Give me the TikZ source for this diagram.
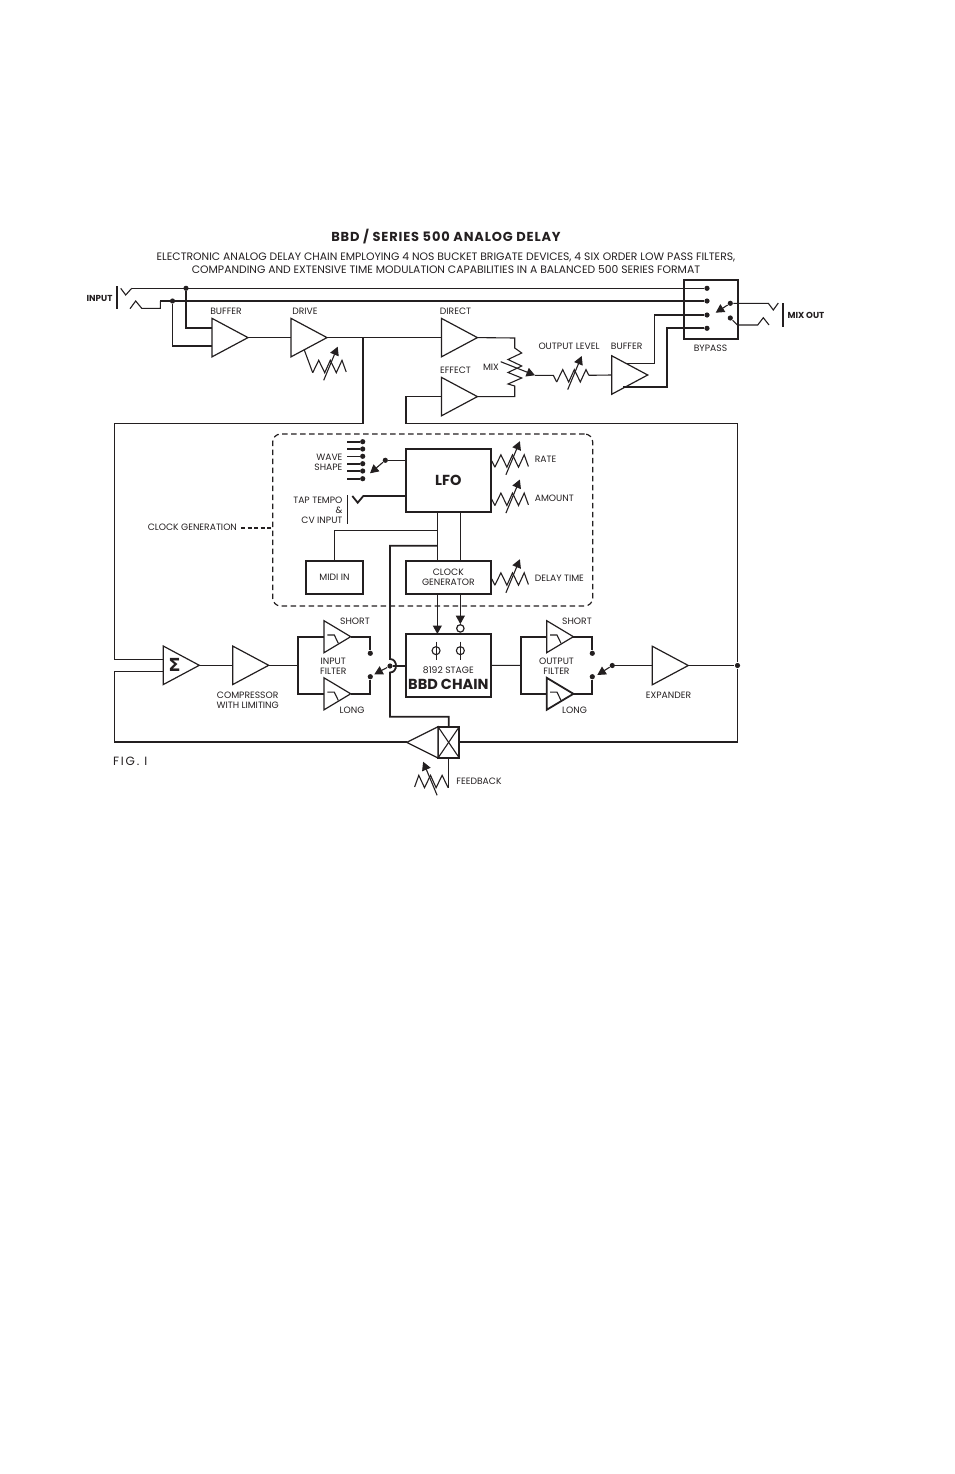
\documentclass[tikz,border=0pt]{standalone}
\usepackage[no-math]{fontspec}
\setmainfont{Poppins}
\newfontfamily\sigmafont{DejaVu Sans}
\usetikzlibrary{arrows.meta,positioning,shapes.geometric}
\definecolor{ink}{HTML}{231F20}

\begin{document}
\begin{tikzpicture}[
  x=1pt,y=-1pt,
  color=ink,line width=1.1pt,
  heavy/.style={line width=1.8pt},
  amp/.style={isosceles triangle,isosceles triangle stretches,draw,fill=white,
              shape border rotate=0,minimum width=38.5pt,minimum height=36pt,
              inner sep=0pt,outer sep=0pt,line width=1.2pt},
  flt/.style={amp,minimum width=32pt,minimum height=26.7pt},
  box/.style={rectangle,draw,fill=white,line width=1.8pt,inner sep=0pt,outer sep=0pt,
              minimum width=85.3pt,align=center},
  dot/.style={circle,fill,inner sep=0pt,minimum size=5.2pt},
  arr/.style={-{Triangle[length=8.5pt,width=9pt]}},
  lab/.style={font=\fontsize{9.2}{10}\selectfont,inner sep=0pt,align=center},
  bold/.style={font=\fontsize{8.7}{10}\selectfont\bfseries,inner sep=0pt},
  pot/.pic={
    \draw (3.4,6.7) -- (9.4,-5.7) -- (15.4,6.7) -- (21,-5.7) -- (27,6.7) -- (32.7,-5.7) -- (#1);
    \draw[arr] (14.4,14.3) -- (28.4,-19.3);
    \coordinate (-mid) at (0,0);
    \coordinate (-in) at (3.4,6.7);
    \coordinate (-out) at (#1);
  },
  lowpass/.pic={\draw (3.3,-1.7) -- (10.3,-1.7) -- (14.3,6.6);}
]
\useasboundingbox (0,0) rectangle (954,1474);

% heading
\node[inner sep=0pt,font=\fontsize{13}{15}\selectfont\bfseries\addfontfeatures{LetterSpace=6.4}] (title) at (446,237) {BBD / SERIES 500 ANALOG DELAY};
\node[lab,font=\fontsize{10.8}{12.5}\selectfont,below=7.5pt of title] (subtitle)
  {ELECTRONIC ANALOG DELAY CHAIN EMPLOYING 4 NOS BUCKET BRIGATE DEVICES, 4 SIX ORDER LOW PASS FILTERS,\\
   COMPANDING AND EXTENSIVE TIME MODULATION CAPABILITIES IN A BALANCED 500 SERIES FORMAT};

% clock generation frame
\node[draw,dashed,dash pattern=on 5.5pt off 3.5pt,line width=1.2pt,rounded corners=8pt,
      minimum width=320pt,minimum height=172pt,inner sep=0pt] (clockgen) at (432.7,520) {};
\node[lab,anchor=east] (clocklab) at (237.5,527.7) {CLOCK GENERATION};
\draw[heavy,dash pattern=on 4pt off 2.5pt] (clocklab.east) ++(3.5,0) -- (clockgen.west |- clocklab);

% top row
\node[amp,anchor=west] (buffer) at (212,337.6) {};
\node[amp,right=43pt of buffer] (drive) {};
\node[amp,right=114.4pt of drive] (direct) {};
\node[amp,anchor=west] (effect) at ([yshift=-59pt]direct.west) {};
\node[amp,anchor=west] (outbuf) at (611.7,375) {};
\node[lab] (buflab) at (226,311) {BUFFER};
\node[lab] (drvlab) at (305,311) {DRIVE};
\node[lab] (dirlab) at (455.5,311) {DIRECT};
\node[lab] (efflab) at (455.5,370) {EFFECT};
\node[lab] (mixlab) at (491,367) {MIX};
\node[lab] (lvllab) at (569,346) {OUTPUT LEVEL};
\node[lab] (oblab) at (626.7,346) {BUFFER};

% input jack
\node[bold] (inlab) at (99.5,298) {INPUT};
\coordinate (intop) at (131.7,288.3);
\coordinate (inlow) at (160.3,301);
\draw[heavy] (116.7,286) -- (116.7,309);
\draw (120.7,288.3) -- (125.7,295) -- (intop);
\draw (130,308.7) -- (135.7,301) -- (141.7,308.3) -- (160.3,308.3) -- (inlow);

% bypass
\node[box,minimum width=54pt,minimum height=59pt,fill=none] (bypass) at (711,309.5) {};
\node[lab] (byplab) at (710.5,348) {BYPASS};
\node[dot] (b1) at (707,288.3) {};
\node[dot] (b2) at (707,301) {};
\node[dot] (b3) at (707,315) {};
\node[dot] (b4) at (707,328.3) {};
\node[dot] (bout1) at (730.3,303.3) {};
\node[dot] (bout2) at (730.3,318) {};
\node[dot] (topdot) at (186,288.3) {};
\node[dot] (lowdot) at (172.5,301) {};
\draw (intop) -- (b1);
\draw (inlow) -- (b2);
\draw[heavy] (topdot) |- ([yshift=9.6pt]buffer.west);
\draw (lowdot) |- ([yshift=-8.4pt]buffer.west);
\draw[arr] (bout1) -- (715.7,312.7);

% mix out jack
\node[bold,anchor=west] (outlab) at (787,315) {MIX OUT};
\draw[heavy] (782.7,303.3) -- (782.7,326.7);
\draw (bout1) -- (768.3,303.3) -- (773.3,310) -- (778.3,303);
\draw (bout2) -- (737.3,325) -- (757.7,325) -- (763.3,317.7) -- (769,325);

% top row wiring
\draw (buffer.east) -- (drive.west);
\draw (drive.east) -- (direct.west);
\pic (drivepot) at (309.3,366) {pot={36.9,6}};
\draw ([xshift=13.3pt,yshift=-12.4pt]drive.west) -- (drivepot-in);
\draw (direct.east) -- (514.7,338) -- (514.7,348) -- (521.7,353) -- (508,359.5) -- (521.7,366)
  -- (508,372.5) -- (521.7,378) -- (508,384) -- (514.7,386) -- (514.7,396.6) -- (effect.east);
\coordinate (mixtip) at (535,375.3);
\draw[arr] (500.7,361.7) -- (mixtip);
\pic (lvlpot) at (553.3,375.3) {pot={35.5,0}};
\draw (mixtip) -- (lvlpot-mid) -- (lvlpot-in);
\draw (lvlpot-out) -- (outbuf.west);
\draw ([xshift=15pt,yshift=11.7pt]outbuf.west) -| (654.3,315) -- (b3);
\draw[heavy] ([xshift=11.3pt,yshift=-11.7pt]outbuf.west) -| (666.7,328.3) -- (b4);

% clock generation contents
\node[box,minimum height=62.7pt] (lfo) at (448.35,480.35) {\fontsize{14.5}{16}\selectfont\bfseries LFO};
\node[box,font=\fontsize{9.2}{10}\selectfont,minimum height=33.3pt,below=49pt of lfo] (clock) {CLOCK\\GENERATOR};
\node[box,font=\fontsize{9.2}{10}\selectfont,minimum width=57.6pt,minimum height=33.3pt] (midi) at (334.5,577.35) {MIDI IN};
\coordinate (miditap) at ([xshift=-11pt,yshift=-18.6pt]lfo.south);
\coordinate (hoptap) at ([xshift=-11pt,yshift=-34pt]lfo.south);
\draw ([xshift=-11pt]lfo.south) -- ([xshift=-11pt]clock.north);
\draw ([xshift=12pt]lfo.south) -- ([xshift=12pt]clock.north);
\draw (midi.north) |- (miditap);

% wave shape contacts
\node[dot] (w1) at (362.7,441.7) {};
\node[dot] (w2) at (362.7,449) {};
\node[dot] (w3) at (362.7,456.3) {};
\node[dot] (w4) at (362.7,463.7) {};
\node[dot] (w5) at (362.7,471) {};
\node[dot] (w6) at (362.7,478.7) {};
\draw[heavy] (w1) -- ++(-16,0);
\draw[heavy] (w2) -- ++(-16,0);
\draw (w3) -- ++(-16,0);
\draw[heavy] (w4) -- ++(-16,0);
\draw (w5) -- ++(-16,0);
\draw[heavy] (w6) -- ++(-16,0);
\node[lab,align=right,anchor=east] (wavelab) at (343,462) {WAVE\\SHAPE};
\node[dot] (wavedot) at (385.3,460.3) {};
\draw[arr] (wavedot) -- (370,473.3);
\draw (wavedot) -- (wavedot -| lfo.west);

% tap tempo
\node[lab,align=right,anchor=east] (taplab) at (343,510.3) {TAP TEMPO\\\&\\CV INPUT};
\coordinate (tapend) at (363.3,496);
\draw (347.7,495.3) -- (347.7,524.3);
\draw[heavy] (352.3,496) -- (357.7,502.7) -- (tapend) -- (tapend -| lfo.west);

% pots on the clock blocks
\pic (ratepot) at (491.5,460.5) {pot={36.9,6}};
\pic (amtpot) at (491.5,498.8) {pot={36.9,6}};
\pic (timepot) at (491.5,578.5) {pot={36.9,6}};
\draw (ratepot-mid) -- (ratepot-in);
\draw (amtpot-mid) -- (amtpot-in);
\draw (timepot-mid) -- (timepot-in);
\node[lab,anchor=west] (ratelab) at (534.3,459.3) {RATE};
\node[lab,anchor=west] (amtlab) at (534.3,498) {AMOUNT};
\node[lab,anchor=west] (timelab) at (534.3,578) {DELAY TIME};

% lower row
\node[amp,anchor=west] (sigma) at (163.3,665.3) {};
\node[font=\sigmafont\fontsize{18}{18}\selectfont\bfseries,inner sep=0pt] (sigmark) at ([xshift=11.2pt]sigma.west) {Σ};
\node[amp,right=33.4pt of sigma] (comp) {};
\node[lab,anchor=north,xshift=15pt,below=26pt of comp.west] (complab) {COMPRESSOR\\WITH LIMITING};
\coordinate (insplit) at ([xshift=29.3pt]comp.east);
\node[flt,anchor=west] (insh) at (324,636.7) {};
\node[flt,anchor=west] (inlg) at (324,693.8) {};
\pic at (insh.west) {lowpass};
\pic at (inlg.west) {lowpass};
\node[lab] (shlab) at (355,621) {SHORT};
\node[lab] (lglab) at (352,710.5) {LONG};
\node[lab] (inlab2) at (333.3,666) {INPUT\\FILTER};
\node[dot] (ins1) at (370.3,653.3) {};
\node[dot] (ins2) at (370.3,676.7) {};
\node[dot] (inpole) at (390,666) {};
\draw (sigma.east) -- (comp.west);
\draw (comp.east) -- (insplit);
\draw[heavy] (insh.west) -- (insplit |- insh.west) -- (insplit |- inlg.west) -- (inlg.west);
\draw[heavy] (insh.east) -| (ins1);
\draw[heavy] (inlg.east) -| (ins2);
\draw[arr] (inpole) -- (374.3,674.3);

% chain
\node[box,minimum height=62.7pt,below=40pt of clock] (bbd) {};
\node[draw,circle,inner sep=0pt,minimum size=8pt] (phia) at ([xshift=-12.3pt,yshift=14.7pt]bbd.center) {};
\node[draw,circle,inner sep=0pt,minimum size=8pt] (phib) at ([xshift=12pt,yshift=14.7pt]bbd.center) {};
\draw ([yshift=4.5pt]phia.north) -- ([yshift=-4.5pt]phia.south);
\draw ([yshift=4.5pt]phib.north) -- ([yshift=-4.5pt]phib.south);
\node[lab] (stagelab) at ([yshift=-4.7pt]bbd.center) {8192 STAGE};
\node[inner sep=0pt,font=\fontsize{14.5}{16}\selectfont\bfseries] (chainlab) at ([yshift=-19.2pt]bbd.center) {BBD CHAIN};
\node[draw,fill=white,circle,inner sep=0pt,minimum size=7.4pt,line width=1.2pt] (inv) at ([xshift=12pt,yshift=5.6pt]bbd.north) {};
\draw[arr] ([xshift=-11pt]clock.south) -- ([xshift=-11pt]bbd.north);
\draw[arr] ([xshift=12pt]clock.south) -- (inv);
\draw (inpole) -- (inpole -| bbd.west);

% output filter
\node[flt,anchor=west] (outsh) at (546.7,636.7) {};
\node[flt,anchor=west,line width=1.8pt] (outlg) at (546.7,693.8) {};
\pic at (outsh.west) {lowpass};
\pic at (outlg.west) {lowpass};
\node[lab] (oshlab) at (577,621) {SHORT};
\node[lab] (olglab) at (574.5,710.5) {LONG};
\node[lab] (outflab) at (556.5,666) {OUTPUT\\FILTER};
\node[dot] (outs1) at (592.3,653.3) {};
\node[dot] (outs2) at (592.3,676.7) {};
\node[dot] (outpole) at (612.3,665.5) {};
\coordinate (outsplit) at (520.7,665.4);
\draw (bbd.east) -- (outsplit);
\draw[heavy] (outsh.west) -- (outsplit |- outsh.west) -- (outsplit |- outlg.west) -- (outlg.west);
\draw[heavy] (outsh.east) -| (outs1);
\draw[heavy] (outlg.east) -| (outs2);
\draw[arr] (outpole) -- (597.3,675);
\node[amp,anchor=west] (expander) at (652.3,665.5) {};
\node[lab] (explab) at (668.5,695) {EXPANDER};
\node[dot] (retdot) at (737.5,665.5) {};
\draw (outpole) -- (expander.west);
\draw (expander.east) -- (retdot);

% feedback
\node[box,minimum width=21.3pt,minimum height=31.3pt,fill=none] (xbox) at (448.65,742.35) {};
\node[amp,shape border rotate=180,minimum width=31.3pt,minimum height=31.3pt,left=0pt of xbox] (fbamp) {};
\draw (xbox.north west) -- (xbox.south east);
\draw (xbox.north east) -- (xbox.south west);
\node[lab] (fblab) at (479,781.7) {FEEDBACK};
\pic[xscale=-1] (fbpot) at (451.5,781) {pot={36.9,6}};
\draw (xbox.south) -- (xbox.south |- fbpot-in) -- (fbpot-in);
\node[anchor=west,inner sep=0pt,font=\fontsize{12}{14}\selectfont\addfontfeatures{LetterSpace=15}] (figlab) at (112.5,761) {FIG. I};

% long return paths
\coordinate (retleft) at (114.3,423.3);
\coordinate (retlow) at (114.3,742.35);
\draw (drive.east) -| (retleft -| 363,0) -- (retleft) |- ([yshift=5.7pt]sigma.west);
\draw (effect.west) -| (406,423.3) -| (retdot);
\draw[heavy] (xbox.east) -| (retdot);
\draw ([yshift=-6pt]sigma.west) -| (retlow);
\draw[heavy] (retlow) -- (fbamp.west);
\draw[heavy] (xbox.north) |- (390,716.7) -- (390,672.5)
  .. controls (398,672.5) and (398,659) .. (390,659) -- (390,545.7) -- (hoptap);
\end{tikzpicture}
\end{document}
